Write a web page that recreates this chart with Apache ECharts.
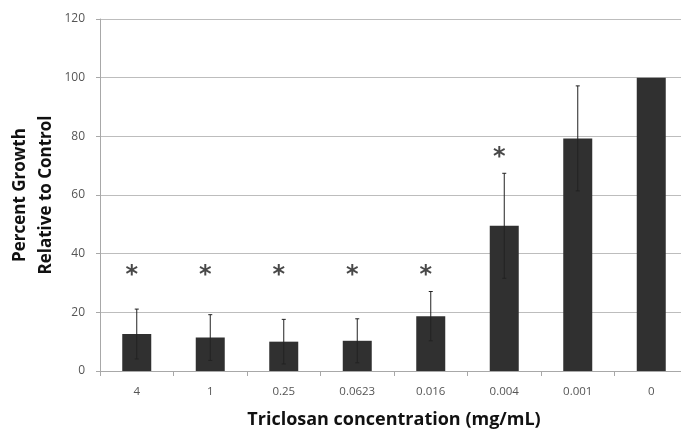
<!DOCTYPE html>
<html>
<head>
<meta charset="utf-8">
<script src="https://cdn.jsdelivr.net/npm/echarts@6/dist/echarts.min.js"></script>
<style>html,body{margin:0;padding:0;background:#fff;}#c{width:681px;height:431px;}</style>
</head>
<body>
<div id="c"></div>
<script>
const categories = ['4', '1', '0.25', '0.0623', '0.016', '0.004', '0.001', '0'];
const growth = [12.6, 11.4, 10.0, 10.3, 18.7, 49.5, 79.3, 100];
const errors = [8.5, 7.8, 7.6, 7.5, 8.4, 17.9, 17.9, 0];
const starY = [35, 35, 35, 35, 35, 75, null, null];
const yTicks = [0, 20, 40, 60, 80, 100, 120];

const chart = echarts.init(document.getElementById('c'), null, {renderer: 'canvas'});
const errData = categories.map((c, i) => [i, growth[i], errors[i]]);
const starData = categories.map((c, i) => starY[i] == null ? null : [i, starY[i]]).filter(d => d);

chart.setOption({
  animation: false,
  backgroundColor: '#ffffff',
  grid: {left: 100, top: 19, right: -7, bottom: 60, containLabel: false, outerBoundsMode: 'none'},
  xAxis: {
    type: 'category',
    data: categories,
    boundaryGap: true,
    axisLine: {show: true, lineStyle: {color: '#a8a8a8', width: 1}},
    axisTick: {show: true, length: 5, lineStyle: {color: '#a8a8a8'}},
    axisLabel: {color: '#555', fontSize: 11.5, fontFamily: 'Open Sans', margin: 15},
    name: 'Triclosan concentration (mg/mL)',
    nameLocation: 'middle',
    nameGap: 40,
    nameMoveOverlap: false,
    nameTextStyle: {color: '#111', fontSize: 18, fontWeight: 'bold', fontFamily: 'Open Sans'}
  },
  yAxis: {
    type: 'value',
    min: yTicks[0],
    max: yTicks[yTicks.length - 1],
    interval: 20,
    axisLine: {show: true, lineStyle: {color: '#a8a8a8', width: 1}},
    axisTick: {show: true, length: 4, lineStyle: {color: '#a8a8a8'}},
    axisLabel: {color: '#555', fontSize: 12, fontFamily: 'Open Sans', margin: 15},
    splitLine: {show: true, lineStyle: {color: '#bdbdbd', width: 1}},
    name: 'Percent Growth\nRelative to Control',
    nameLocation: 'middle',
    nameGap: 41,
    nameMoveOverlap: false,
    nameRotate: 90,
    nameTextStyle: {color: '#111', fontSize: 17, fontWeight: 'bold', fontFamily: 'Open Sans', lineHeight: 26}
  },
  series: [
    {
      type: 'bar',
      data: growth,
      barWidth: 29,
      itemStyle: {color: '#303030'},
      z: 2
    },
    {
      type: 'custom',
      data: errData,
      z: 3,
      renderItem: function (params, api) {
        const i = api.value(0), v = api.value(1), e = api.value(2);
        if (!e) return null;
        const top = api.coord([i, v + e]);
        const bot = api.coord([i, v - e]);
        const cap = 2;
        const st = {stroke: '#222', lineWidth: 1};
        return {
          type: 'group',
          children: [
            {type: 'line', shape: {x1: top[0], y1: top[1], x2: bot[0], y2: bot[1]}, style: st},
            {type: 'line', shape: {x1: top[0] - cap, y1: top[1], x2: top[0] + cap, y2: top[1]}, style: st},
            {type: 'line', shape: {x1: bot[0] - cap, y1: bot[1], x2: bot[0] + cap, y2: bot[1]}, style: st}
          ]
        };
      }
    },
    {
      type: 'scatter',
      data: starData,
      symbolSize: 0,
      z: 4,
      label: {
        show: true,
        position: 'inside',
        formatter: '*',
        fontSize: 24,
        fontWeight: 'bold',
        fontFamily: 'DejaVu Sans',
        color: '#1a1a1a',
        offset: [-5, 7]
      }
    }
  ]
});
</script>
</body>
</html>
